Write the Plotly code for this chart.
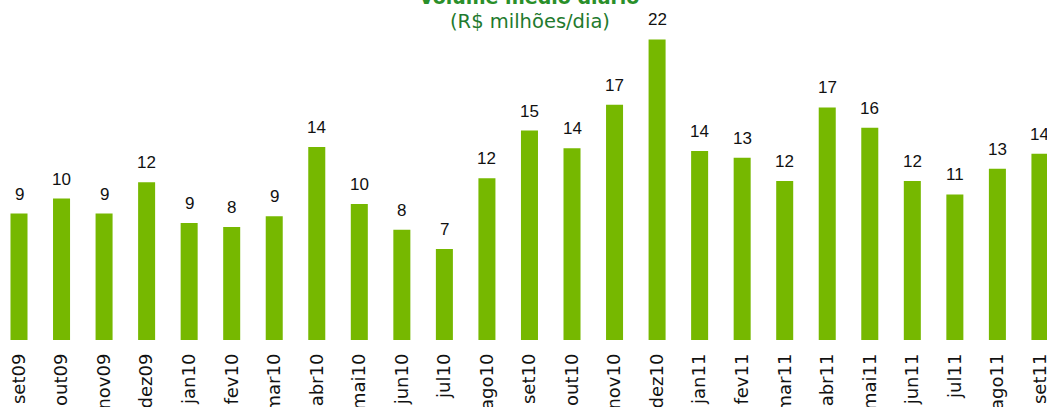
import plotly.graph_objects as go

months = ["set09", "out09", "nov09", "dez09", "jan10", "fev10", "mar10", "abr10",
          "mai10", "jun10", "jul10", "ago10", "set10", "out10", "nov10", "dez10",
          "jan11", "fev11", "mar11", "abr11", "mai11", "jun11", "jul11", "ago11", "set11"]
volume = [9.3, 10.4, 9.3, 11.6, 8.6, 8.3, 9.1, 14.2, 10.0, 8.1, 6.7, 11.9, 15.4,
          14.1, 17.3, 22.1, 13.9, 13.4, 11.7, 17.1, 15.6, 11.7, 10.7, 12.6, 13.7]
labels = [str(int(round(v))) for v in volume]

title = "Volume médio diário"
subtitle = "(R$ milhões/dia)"

W, H = 1047, 407
top_m, bot_m = 0, 67
plot_h = H - top_m - bot_m

fig = go.Figure()
fig.add_trace(go.Bar(x=months, y=volume, marker_color="#76b800",
                     marker_line_width=0, hoverinfo="x+y"))

for m, v, t in zip(months, volume, labels):
    fig.add_annotation(x=m, y=v, text=t, showarrow=False, yanchor="bottom",
                       yshift=8, font=dict(family="Liberation Sans, Arial", size=17,
                                           color="#111111"))

def py(px):
    return 1 - (px - top_m) / plot_h

fig.add_annotation(xref="paper", yref="paper", x=529 / W, y=py(10), yanchor="bottom",
                   text="<b>" + title + "</b>", showarrow=False,
                   font=dict(family="DejaVu Sans", size=19, color="#2a8f2a"))
fig.add_annotation(xref="paper", yref="paper", x=529.5 / W, y=py(21.5), yanchor="middle",
                   text=subtitle, showarrow=False,
                   font=dict(family="DejaVu Sans", size=19.5, color="#1f7a2e"))

fig.update_layout(
    width=W, height=H,
    margin=dict(l=0, r=0, t=top_m, b=bot_m, pad=0),
    plot_bgcolor="white", paper_bgcolor="white",
    bargap=0.6, showlegend=False,
    xaxis=dict(range=[-0.4466, 24.166], tickangle=-90, showgrid=False, showline=False,
               ticks="", automargin=False, ticklabelstandoff=9,
               tickfont=dict(family="DejaVu Sans", size=18, color="#111111")),
    yaxis=dict(range=[0, 25], visible=False, showgrid=False, zeroline=False),
)

fig.write_html("out.html", config={"displayModeBar": False},
               post_script="document.body.style.margin='0';")
